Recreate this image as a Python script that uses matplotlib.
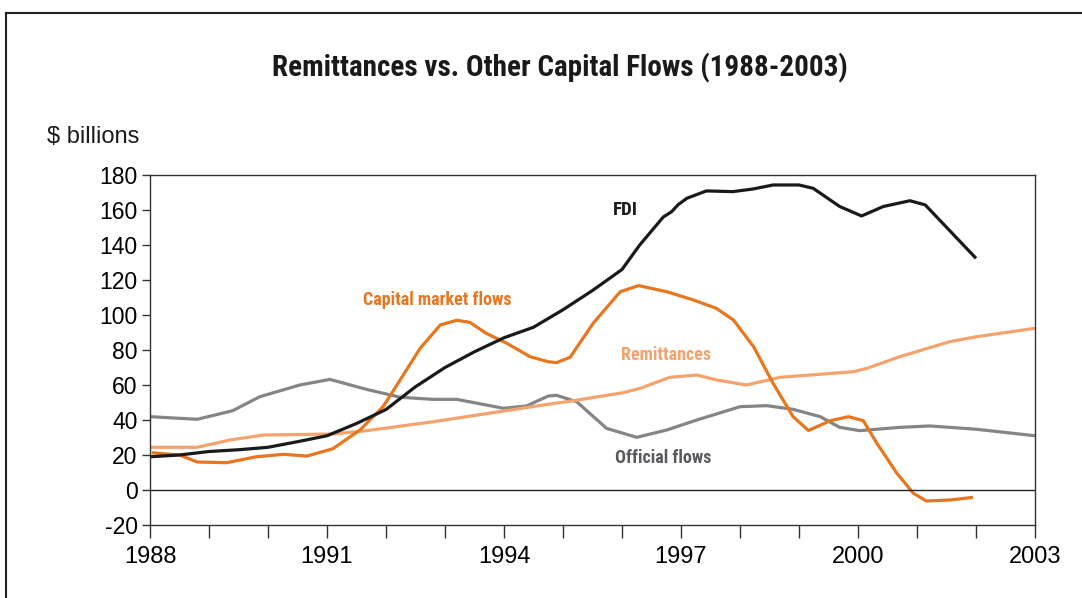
import matplotlib
matplotlib.use('Agg')
import matplotlib.pyplot as plt
from matplotlib import font_manager as fm
from matplotlib.lines import Line2D

# values ($ billions)
fdi_years = [1988.0, 1988.5, 1989.0, 1989.5, 1990.0, 1990.5, 1991.0, 1991.5, 1992.0,
             1992.5, 1993.0, 1993.5, 1994.0, 1994.5, 1995.0, 1995.5, 1996.0, 1996.3,
             1996.7, 1996.84, 1996.95, 1997.1, 1997.43, 1997.88, 1998.22, 1998.56,
             1999.0, 1999.24, 1999.69, 2000.06, 2000.43, 2000.88, 2001.14, 2001.56, 2002.0]
fdi = [19, 20, 22, 23, 24.4, 27.6, 31, 38, 46,
       59, 70, 79, 87, 93, 103, 114, 126, 140,
       156, 159, 163, 166.7, 170.9, 170.5, 172, 174.3,
       174.3, 172.4, 162, 156.6, 162, 165.3, 162.9, 148, 132.4]

cap_years = [1988.03, 1988.5, 1988.8, 1989.3, 1989.8, 1990.26, 1990.66, 1991.1, 1991.56,
             1991.95, 1992.24, 1992.58, 1992.92, 1993.2, 1993.42, 1993.7, 1994.05, 1994.44,
             1994.75, 1994.89, 1995.12, 1995.51, 1995.97, 1996.28, 1996.76, 1997.21, 1997.6,
             1997.89, 1998.23, 1998.56, 1998.9, 1999.16, 1999.53, 1999.84, 2000.09, 2000.32,
             2000.66, 2000.94, 2001.16, 2001.56, 2001.95]
capital_market = [21.3, 20, 16, 15.6, 19, 20.4, 19.4, 23.6, 34.3,
                  47.6, 62.9, 81, 94.3, 97, 95.8, 89.5, 83.8, 76.2,
                  73.3, 72.8, 75.8, 95.2, 113.3, 116.8, 113.3, 108.6, 103.8,
                  97.1, 81.9, 61, 41.9, 34, 39.6, 41.9, 39.6, 26.7,
                  9.5, -1.9, -6.3, -5.7, -4.2]

rem_years = [1988.0, 1988.8, 1989.36, 1989.92, 1991.1, 1991.67, 1992.8, 1993.93, 1994.75,
             1995.17, 1996.02, 1996.31, 1996.81, 1997.27, 1997.6, 1998.11, 1998.68, 1999.19,
             1999.92, 2000.15, 2000.71, 2001.56, 2002.01, 2003.0]
remittances = [24.4, 24.4, 28.6, 31.4, 32, 33.9, 39, 44.8, 49,
               51, 55.6, 58.1, 64.4, 65.7, 62.9, 60, 64.4, 65.7,
               67.6, 69.5, 76.2, 84.8, 87.6, 92.4]

off_years = [1988.0, 1988.8, 1989.4, 1989.86, 1990.54, 1991.05, 1991.67, 1992.24, 1992.8,
             1993.2, 1993.99, 1994.38, 1994.75, 1994.89, 1995.23, 1995.74, 1996.25, 1996.76,
             1997.27, 1998.0, 1998.45, 1998.9, 1999.36, 1999.69, 2000.03, 2000.71, 2001.22,
             2002.01, 2003.0]
official = [41.9, 40.4, 45.3, 53.3, 60, 63.2, 57.5, 53, 51.8,
            51.8, 46.7, 48, 53.7, 54.1, 50.5, 35.2, 30.1, 34.3,
            40, 47.6, 48.2, 46.1, 41.9, 35.8, 33.9, 35.8, 36.6,
            34.7, 31]

year_ticks = list(range(1988, 2004))
year_labels = ['1988', '1991', '1994', '1997', '2000', '2003']
value_ticks = list(range(-20, 181, 20))

# pick a narrow bold face if one is around
have = {f.name for f in fm.fontManager.ttflist}
narrow_pref = ['Roboto Condensed', 'Archivo Narrow', 'PT Sans Narrow', 'Pathway Gothic One',
               'Oswald', 'Fjalla One', 'Barlow Condensed']
narrow = [n for n in narrow_pref if n in have][:1] + ['DejaVu Sans']
plain = ['Liberation Sans', 'DejaVu Sans']

fig = plt.figure(figsize=(10.82, 5.98), dpi=100)
ax = fig.add_axes([150 / 1082, 1 - 525 / 598, 885 / 1082, 350 / 598])

style = dict(lw=2.3, solid_capstyle='butt', solid_joinstyle='round')
ax.plot(off_years, official, color='#858585', **style)
ax.plot(rem_years, remittances, color='#F2A36E', **style)
ax.plot(cap_years, capital_market, color='#E8761F', **style)
ax.plot(fdi_years, fdi, color='#1a1a1a', **style)
ax.axhline(0, color='#222222', lw=1.0)

ax.set_xlim(1988, 2003)
ax.set_ylim(-20, 180)
ax.set_yticks(value_ticks)
ax.set_yticklabels([str(v) for v in value_ticks], family=plain, fontsize=16.5)
ax.set_xticks(year_ticks)
ax.set_xticklabels([str(y) if str(y) in year_labels else '' for y in year_ticks],
                   family=plain, fontsize=17)
ax.tick_params(axis='x', length=9, width=1, color='#333333', pad=6)
ax.tick_params(axis='y', length=6, width=1, color='#333333', pad=3)
for s in ax.spines.values():
    s.set_color('#333333')
    s.set_linewidth(1.0)

# series labels
ax.text(1996.05, 160, 'FDI', color='#1a1a1a', family=narrow, weight='bold',
        fontsize=13.5, ha='center', va='center')
ax.text(1992.87, 108.5, 'Capital market flows', color='#E8761F', family=narrow,
        weight='bold', fontsize=13, ha='center', va='center')
ax.text(1996.75, 77, 'Remittances', color='#F2A36E', family=narrow, weight='bold',
        fontsize=13, ha='center', va='center')
ax.text(1996.7, 18.5, 'Official flows', color='#5a5a5e', family=narrow, weight='bold',
        fontsize=13, ha='center', va='center')

fig.text(560 / 1082, 1 - 68 / 598, 'Remittances vs. Other Capital Flows (1988-2003)',
         family=narrow, weight='bold', fontsize=21, ha='center', va='center',
         color='#1a1a1a')
fig.text(47 / 1082, 1 - 137 / 598, '$ billions', family=plain, fontsize=17,
         ha='left', va='center', color='#1a1a1a')

# frame around the figure (left and top edges)
fig.add_artist(Line2D([6 / 1082, 6 / 1082], [0, 1 - 13 / 598], transform=fig.transFigure,
                      color='#222222', lw=1.5))
fig.add_artist(Line2D([6 / 1082, 1], [1 - 13 / 598, 1 - 13 / 598], transform=fig.transFigure,
                      color='#222222', lw=1.5))

fig.savefig('out.png', dpi=100)
